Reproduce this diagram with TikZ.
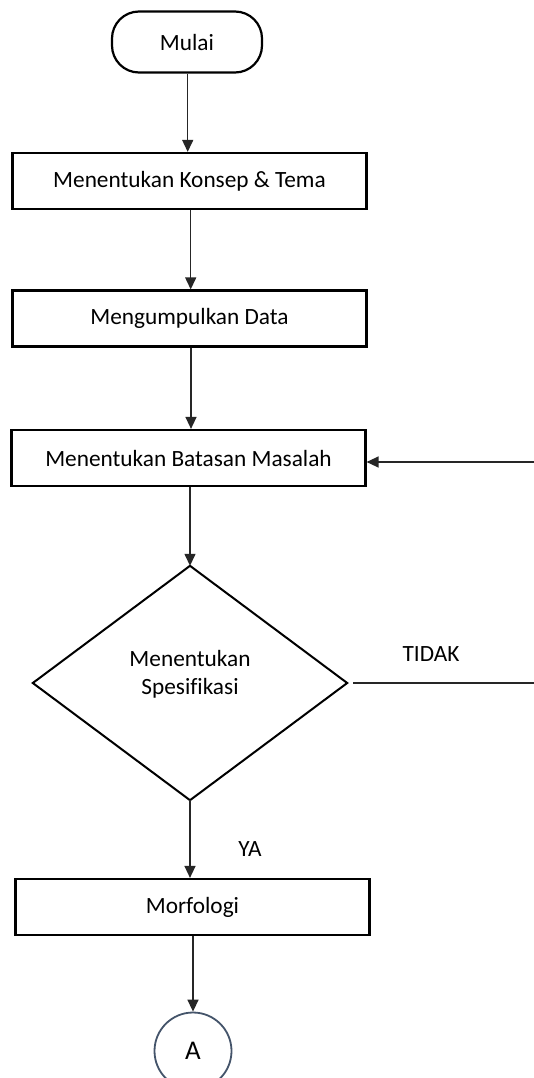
\documentclass[tikz,border=0pt]{standalone}
\usepackage{fontspec}
\setmainfont{Carlito}[Ligatures=NoCommon]
\usetikzlibrary{arrows.meta,shapes.geometric}
\definecolor{circblue}{RGB}{68,84,106}
\begin{document}
\begin{tikzpicture}[x=1pt,y=-1pt,
  every node/.style={font=\fontsize{23.3}{26}\selectfont, text=black},
  stepbox/.style={draw=black, line width=2.2pt, minimum width=354pt, minimum height=56pt, inner sep=0pt},
  termbox/.style={draw=black, line width=2.2pt, rounded corners=27pt, minimum width=150pt, minimum height=61pt, inner sep=0pt},
  conn/.style={draw=black!85, line width=1.4pt},
  arr/.style={conn, -{Triangle[length=12pt,width=11pt]}},
  lbl/.style={inner sep=0pt}
]
\useasboundingbox (0,0) rectangle (534,1078);
\fill[white] (0,0) rectangle (534,1078);

\node[termbox] (start) at (187,42) {Mulai};
\node[stepbox] (b1) at (189.5,181) {Menentukan Konsep \& Tema};
\node[stepbox] (b2) at (189.5,318.5) {Mengumpulkan Data};
\node[stepbox] (b3) at (188.5,458) {Menentukan Batasan Masalah};
\node[draw=none, minimum width=314pt, minimum height=234pt, inner sep=0pt] (dbox) at (190,683) {};
\draw[black, line width=2pt, line join=miter] (dbox.north) -- (dbox.east) -- (dbox.south) -- (dbox.west) -- cycle;
\node[lbl, align=center] (dtext) at (190,674) {Menentukan\\[2pt]Spesifikasi};
\node[stepbox] (b4) at (192.5,907) {Morfologi};
\node[draw=circblue, line width=1.8pt, circle, minimum size=77pt, inner sep=0pt, font=\fontsize{27}{29}\selectfont] (A) at (193,1051) {A};

\node[lbl] (tidak) at (431,654) {TIDAK};
\node[lbl] (ya) at (250,849) {YA};

\coordinate (r1) at (534,683);
\coordinate (r2) at (534,462);

\draw[arr] (start.south -| 187.7,0) -- (b1.north -| 187.7,0);
\draw[arr] (b1.south -| 190.7,0) -- (b2.north -| 190.7,0);
\draw[arr] (b2.south -| 191,0) -- (b3.north -| 191,0);
\draw[arr] (b3.south -| dbox.north) -- (dbox.north);
\draw[arr] (dbox.south) -- (b4.north -| dbox.south);
\draw[conn] ([xshift=6pt]dbox.east) -- (r1);
\draw[arr] (r2) -- (b3.east |- r2);
\draw[arr] (b4.south -| A.north) -- (A.north);
\end{tikzpicture}
\end{document}
